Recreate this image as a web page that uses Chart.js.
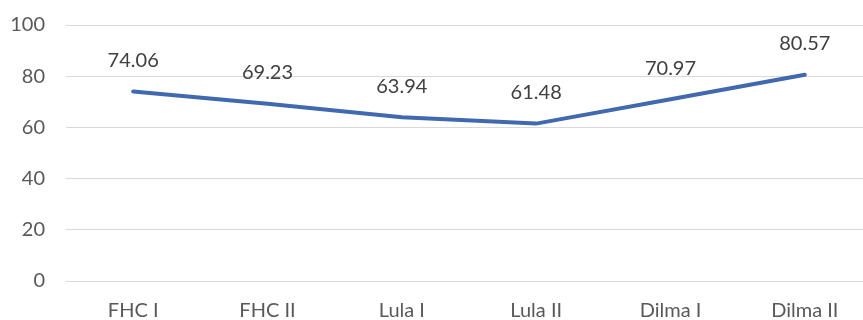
<!DOCTYPE html>
<html>
<head>
<meta charset="utf-8">
<script src="https://cdn.jsdelivr.net/npm/chart.js@4"></script>
<style>
  html, body { margin: 0; padding: 0; background: #fff; overflow: hidden; }
  #wrap { width: 872px; height: 320px; }
</style>
</head>
<body>
<div id="wrap"><canvas id="mandatos"></canvas></div>
<script>
const mandatos = ['FHC I', 'FHC II', 'Lula I', 'Lula II', 'Dilma I', 'Dilma II'];
const valores = [74.06, 69.23, 63.94, 61.48, 70.97, 80.57];
const yMin = 0;
const yMax = 100;
const yStep = 20;

// rótulos de valor acima de cada ponto da linha
const rotulos = {
  id: 'rotulos',
  afterDatasetsDraw(chart) {
    const ctx = chart.ctx;
    const meta = chart.getDatasetMeta(0);
    ctx.save();
    ctx.font = '20px Lato';
    ctx.fillStyle = '#404040';
    ctx.textAlign = 'center';
    ctx.textBaseline = 'middle';
    meta.data.forEach((pt, i) => {
      ctx.fillText(valores[i].toFixed(2), pt.x, pt.y - 31);
    });
    ctx.restore();
  },
};

new Chart(document.getElementById('mandatos'), {
  type: 'line',
  data: {
    labels: mandatos,
    datasets: [{
      data: valores,
      borderColor: '#4169b0',
      borderWidth: 4,
      pointRadius: 0,
      tension: 0,
      borderCapStyle: 'round',
    }],
  },
  options: {
    responsive: true,
    maintainAspectRatio: false,
    animation: false,
    layout: { padding: { top: 25, right: 0, left: 0, bottom: 0 } },
    scales: {
      x: {
        offset: true,
        grid: { display: false },
        border: { display: false },
        ticks: { color: '#595959', font: { family: 'Lato', size: 20 }, padding: 10 },
        afterFit: (s) => { s.height = 39; s.paddingLeft = 0; s.paddingRight = 0; },
      },
      y: {
        min: yMin,
        max: yMax,
        grid: { color: '#d9d9d9', lineWidth: 1, drawTicks: false },
        border: { display: false },
        ticks: { stepSize: yStep, color: '#595959', font: { family: 'Lato', size: 20 }, padding: 21 },
        afterFit: (s) => { s.width = 66; s.paddingTop = 0; s.paddingBottom = 0; },
      },
    },
    plugins: {
      legend: { display: false },
      tooltip: { enabled: false },
    },
  },
  plugins: [rotulos],
});
</script>
</body>
</html>
